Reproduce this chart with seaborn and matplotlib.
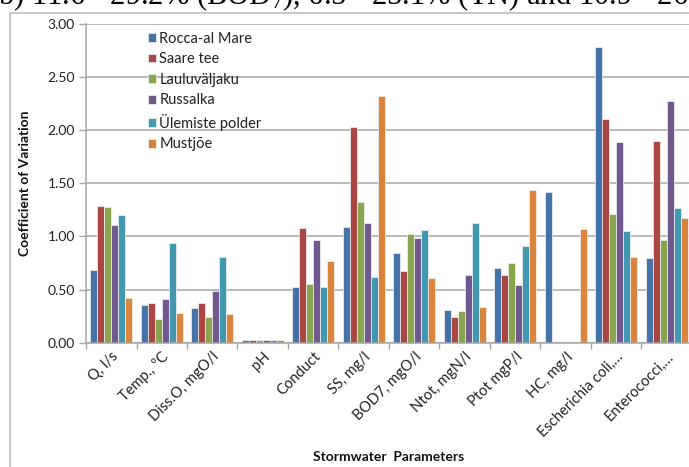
import matplotlib
matplotlib.use("Agg")
import matplotlib.pyplot as plt
from matplotlib.patches import Rectangle
from matplotlib.ticker import FixedLocator, FormatStrFormatter
import numpy as np
import pandas as pd
import seaborn as sns

# Stormwater quality parameters (x categories)
parameters = ["Q, l/s", "Temp., ºC", "Diss.O, mgO/l", "pH", "Conduct", "SS, mg/l",
              "BOD7, mgO/l", "Ntot, mgN/l", "Ptot mgP/l", "HC, mg/l",
              "Escherichia coli,…", "Enterococci,…"]

# Monitoring sites (legend order)
sites = ["Rocca-al Mare", "Saare tee", "Lauluväljaku", "Russalka",
         "Ülemiste polder", "Mustjõe"]

nan = np.nan
# Coefficient of variation per site, one value per parameter
rocca_al_mare = [0.68, 0.35, 0.33, 0.03, 0.52, 1.09, 0.84, 0.31, 0.70, 1.42, 2.78, 0.80]
saare_tee = [1.29, 0.37, 0.37, 0.03, 1.08, 2.03, 0.67, 0.24, 0.64, nan, 2.10, 1.90]
lauluvaljaku = [1.28, 0.22, 0.24, 0.03, 0.55, 1.32, 1.02, 0.30, 0.75, nan, 1.21, 0.97]
russalka = [1.11, 0.41, 0.49, 0.03, 0.97, 1.13, 0.98, 0.64, 0.54, nan, 1.89, 2.27]
ulemiste_polder = [1.20, 0.94, 0.81, 0.03, 0.52, 0.62, 1.06, 1.13, 0.91, nan, 1.05, 1.27]
mustjoe = [0.42, 0.28, 0.27, 0.03, 0.77, 2.32, 0.61, 0.34, 1.44, 1.07, 0.81, 1.17]

y_ticks = [0.0, 0.5, 1.0, 1.5, 2.0, 2.5, 3.0]

colors = ["#4572A7", "#AA4643", "#89A54E", "#71588F", "#4198AF", "#DB843D"]

series = [rocca_al_mare, saare_tee, lauluvaljaku, russalka, ulemiste_polder, mustjoe]
df = pd.DataFrame(
    [(p, s, v) for s, vals in zip(sites, series) for p, v in zip(parameters, vals)],
    columns=["parameter", "site", "cv"],
)

sns.set_theme(style="white")
plt.rcParams["font.family"] = ["Lato", "DejaVu Sans"]
plt.rcParams["mathtext.fontset"] = "custom"
plt.rcParams["mathtext.rm"] = "Liberation Serif"
plt.rcParams["mathtext.it"] = "Liberation Serif:italic"

W, H = 689, 467
fig = plt.figure(figsize=(W / 100, H / 100), dpi=100)
ax = fig.add_axes([86 / W, 1 - 342.7 / H, (692 - 86) / W, (342.7 - 23.7) / H])

sns.barplot(data=df, x="parameter", y="cv", hue="site", order=parameters,
            hue_order=sites, palette=colors, saturation=1, width=0.83,
            errorbar=None, edgecolor="#F4F4F4", linewidth=0.5, ax=ax)

grey = "#A6A6A6"
ax.set_ylim(0, 3.0)
ax.set_xlim(-0.5, len(parameters) - 0.5)
ax.yaxis.set_major_locator(FixedLocator(y_ticks))
ax.yaxis.set_major_formatter(FormatStrFormatter("%.2f"))
ax.yaxis.grid(True, color=grey, linewidth=1.1)
ax.set_axisbelow(True)
for side in ("top", "right"):
    ax.spines[side].set_visible(False)
for side in ("left", "bottom"):
    ax.spines[side].set_color(grey)
    ax.spines[side].set_linewidth(1.1)

ax.tick_params(axis="y", which="major", left=True, length=5, width=1, color=grey,
               labelsize=10, pad=3, labelcolor="#222222")
ax.set_xticks(np.arange(len(parameters)))
ax.set_xticklabels(parameters, rotation=45, ha="right", rotation_mode="anchor",
                   fontsize=10.5, color="#222222")
ax.tick_params(axis="x", which="major", bottom=False, length=0, pad=5)
ax.xaxis.set_minor_locator(FixedLocator(np.arange(-0.5, len(parameters), 1.0)))
ax.tick_params(axis="x", which="minor", bottom=True, length=4, width=1, color=grey)

ax.set_xlabel("Stormwater  Parameters", fontsize=10, fontweight="bold",
              labelpad=8, color="#111111")
ax.set_ylabel("Coefficient of Variation", fontsize=10, fontweight="bold",
              labelpad=12, color="#111111")

leg = ax.legend(loc="upper left", bbox_to_anchor=(0.102, 0.975), frameon=False,
                fontsize=10.5, handlelength=0.55, handleheight=0.55,
                handletextpad=0.25, labelspacing=0.45, borderaxespad=0,
                borderpad=0)
for t in leg.get_texts():
    t.set_color("#222222")

# chart frame
fig.patches.append(Rectangle((10 / W, -0.1), 2.0, 1 - 13 / H + 0.1, fill=False,
                             edgecolor="#BFBFBF", linewidth=1.2,
                             transform=fig.transFigure, figure=fig))

# running text line above the chart
fig.text(-2 / W, 1 - 4.5 / H,
         r"b) 11.6 - 29.2% (BOD$_7$), 6.5 - 25.1% (TN) and 10.9 - 26.1%",
         family="Liberation Serif", fontsize=22, ha="left", va="baseline",
         color="black")

fig.savefig("out.png", dpi=100)
